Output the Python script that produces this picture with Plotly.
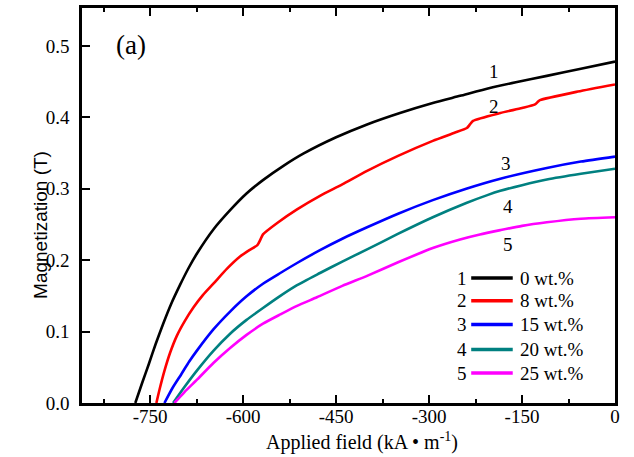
import plotly.graph_objects as go

# ---- data ----
H_black = [-774, -763, -752, -741, -729, -716, -702, -688, -674, -648, -621, -595, -568, -535, -503, -450, -400, -347, -294, -250, -202, -160, -110, -55, 0]
M_black = [0.0, 0.028, 0.055, 0.083, 0.111, 0.139, 0.165, 0.189, 0.210, 0.243, 0.270, 0.293, 0.312, 0.332, 0.349, 0.372, 0.390, 0.406, 0.420, 0.430, 0.441, 0.449, 0.458, 0.468, 0.478]

H_red = [-740, -734, -727, -718, -707, -694, -680, -665, -648, -626, -605, -590, -577, -572, -568, -545, -513, -476, -440, -400, -350, -294, -260, -239, -234, -229, -185, -150, -129, -124, -121, -60, 0]
M_red = [0.0, 0.022, 0.045, 0.070, 0.094, 0.115, 0.134, 0.151, 0.167, 0.188, 0.205, 0.214, 0.221, 0.229, 0.236, 0.252, 0.271, 0.290, 0.306, 0.325, 0.346, 0.367, 0.378, 0.385, 0.390, 0.395, 0.406, 0.413, 0.418, 0.422, 0.424, 0.436, 0.446]

H_blue = [-727, -714, -700, -687, -674, -648, -621, -595, -568, -540, -513, -476, -440, -400, -350, -294, -240, -185, -110, -55, 0]
M_blue = [0.0, 0.021, 0.040, 0.058, 0.074, 0.103, 0.128, 0.149, 0.167, 0.182, 0.196, 0.214, 0.230, 0.246, 0.265, 0.284, 0.300, 0.314, 0.329, 0.338, 0.345]

H_teal = [-713, -695, -674, -648, -621, -595, -568, -540, -513, -476, -440, -400, -352, -294, -240, -206, -185, -150, -110, -55, 0]
M_teal = [0.0, 0.022, 0.046, 0.073, 0.097, 0.116, 0.133, 0.150, 0.165, 0.182, 0.198, 0.215, 0.236, 0.260, 0.280, 0.291, 0.297, 0.305, 0.313, 0.321, 0.328]

H_mag = [-711, -695, -674, -648, -621, -595, -568, -540, -513, -481, -440, -400, -350, -294, -250, -218, -185, -150, -110, -55, 0]
M_mag = [0.0, 0.015, 0.033, 0.056, 0.077, 0.095, 0.111, 0.124, 0.136, 0.148, 0.164, 0.178, 0.197, 0.217, 0.229, 0.236, 0.242, 0.248, 0.253, 0.258, 0.260]

series_names = ["0 wt.%", "8 wt.%", "15 wt.%", "20 wt.%", "25 wt.%"]
series_ids = ["1", "2", "3", "4", "5"]
colors = ["#000000", "#FF0000", "#0000FF", "#008080", "#FF00FF"]

x_ticks = [-750, -600, -450, -300, -150, 0]
y_ticks = [0.0, 0.1, 0.2, 0.3, 0.4, 0.5]

# curve number labels (data coords)
label_H = [-195, -195, -176, -173, -173]
label_M = [0.464, 0.415, 0.335, 0.275, 0.222]

# legend rows (data coords)
legend_M = [0.175, 0.143, 0.110, 0.075, 0.042]
legend_H0, legend_H1 = -232, -165

serif = "Liberation Serif, Times New Roman, serif"
sans = "Liberation Sans, Arial, sans-serif"

fig = go.Figure()
all_H = [H_black, H_red, H_blue, H_teal, H_mag]
all_M = [M_black, M_red, M_blue, M_teal, M_mag]
for h, m, c, n in zip(all_H, all_M, colors, series_names):
    fig.add_trace(go.Scatter(x=h, y=m, mode="lines", name=n,
                             line=dict(color=c, width=2.6, shape="spline", smoothing=0.6),
                             showlegend=False))

annotations = []
for t, hx, my in zip(series_ids, label_H, label_M):
    annotations.append(dict(x=hx, y=my, xref="x", yref="y", text=t, showarrow=False,
                            font=dict(family=serif, size=19, color="black")))

shapes = []
for i, (t, n, c, my) in enumerate(zip(series_ids, series_names, colors, legend_M)):
    shapes.append(dict(type="line", xref="x", yref="y", x0=legend_H0, x1=legend_H1,
                       y0=my, y1=my, line=dict(color=c, width=3.5)))
    annotations.append(dict(x=legend_H0 - 3, y=my, xref="x", yref="y", text=t,
                            showarrow=False, xanchor="right",
                            font=dict(family=serif, size=19, color="black")))
    annotations.append(dict(x=legend_H1 + 9, y=my, xref="x", yref="y", text=n,
                            showarrow=False, xanchor="left",
                            font=dict(family=serif, size=19, color="black")))

annotations.append(dict(x=-781, y=0.501, xref="x", yref="y", text="(a)", showarrow=False,
                        font=dict(family=serif, size=27, color="black")))
annotations.append(dict(x=-0.101, y=0.45, xref="paper", yref="paper",
                        text="Magnetization (T)", textangle=-90, showarrow=False,
                        font=dict(family=sans, size=19, color="black")))
annotations.append(dict(x=0.525, y=-0.098, xref="paper", yref="paper", yanchor="middle",
                        text="Applied field (kA \u2022 m<sup>-1</sup>)", showarrow=False,
                        font=dict(family=serif, size=20, color="black")))

fig.update_layout(
    width=634, height=457,
    margin=dict(l=82, r=19, t=5, b=54),
    paper_bgcolor="white", plot_bgcolor="white",
    showlegend=False,
    annotations=annotations, shapes=shapes,
    xaxis=dict(range=[-860, 0], tickvals=x_ticks, ticktext=[str(v) for v in x_ticks],
               ticks="inside", ticklen=8, tickwidth=2, tickcolor="black",
               minor=dict(dtick=75, tick0=-825, ticks="inside", ticklen=4, tickwidth=1.5, tickcolor="black"),
               showline=True, linewidth=2.5, linecolor="black", mirror="allticks",
               showgrid=False, zeroline=False, ticklabelstandoff=-6,
               tickfont=dict(family=serif, size=19, color="black")),
    yaxis=dict(range=[0, 0.553], tickvals=y_ticks, tickformat=".1f",
               ticks="inside", ticklen=8, tickwidth=2, tickcolor="black",
               showline=True, linewidth=2.5, linecolor="black", mirror=True,
               showgrid=False, zeroline=False, ticklabelstandoff=6,
               tickfont=dict(family=serif, size=19, color="black")),
)

fig.write_html("out.html")
